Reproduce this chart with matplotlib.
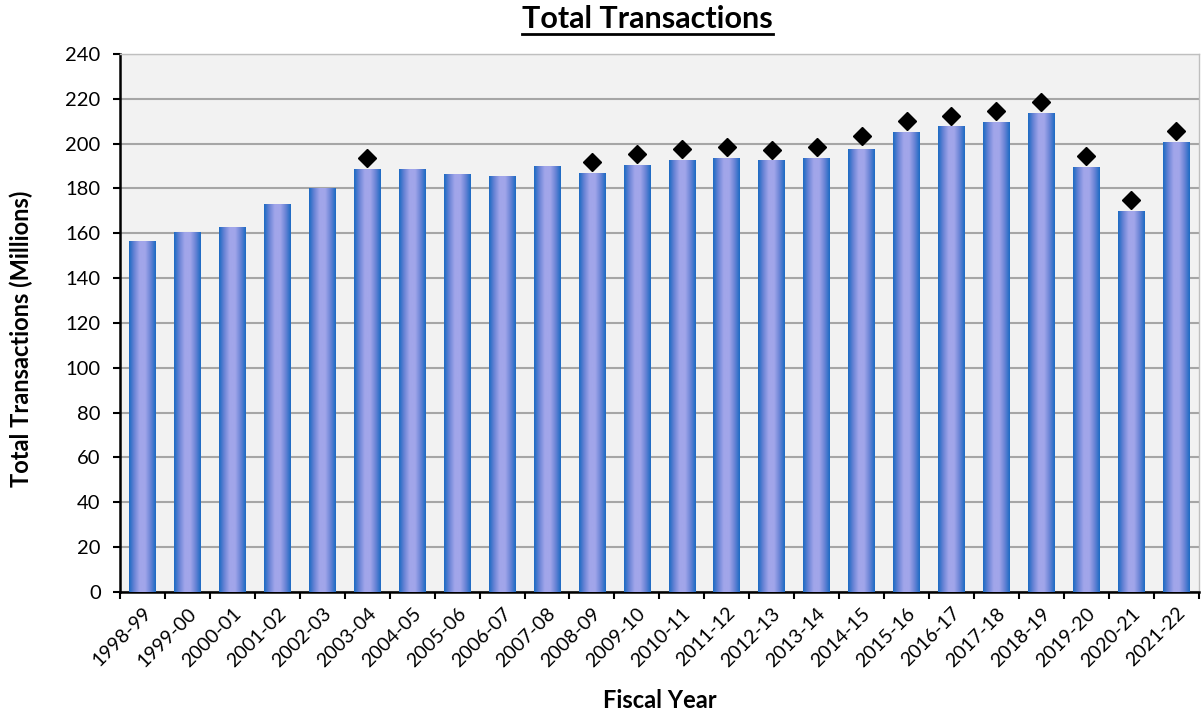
import matplotlib
matplotlib.use("Agg")
import matplotlib.pyplot as plt
import numpy as np
from matplotlib.colors import LinearSegmentedColormap

years = ["1998-99", "1999-00", "2000-01", "2001-02", "2002-03", "2003-04", "2004-05",
         "2005-06", "2006-07", "2007-08", "2008-09", "2009-10", "2010-11", "2011-12",
         "2012-13", "2013-14", "2014-15", "2015-16", "2016-17", "2017-18", "2018-19",
         "2019-20", "2020-21", "2021-22"]
totals = [156.4, 160.4, 162.7, 173.0, 180.0, 188.6, 188.6, 186.4, 185.5, 190.0,
          186.8, 190.4, 192.6, 193.5, 192.6, 193.5, 197.5, 205.0, 207.8, 209.6,
          213.6, 189.5, 169.8, 200.7]
marker_years = ["2003-04", "2008-09", "2009-10", "2010-11", "2011-12", "2012-13", "2013-14",
                "2014-15", "2015-16", "2016-17", "2017-18", "2018-19", "2019-20", "2020-21",
                "2021-22"]
marker_values = [193.5, 191.7, 195.3, 197.5, 198.4, 197.0, 198.4, 203.4, 210.0, 212.3,
                 214.5, 218.5, 194.4, 174.7, 205.6]
yticks = list(range(0, 241, 20))

plt.rcParams['font.family'] = ['Lato', 'DejaVu Sans']

fig = plt.figure(figsize=(12.01, 7.13), dpi=100)
ax = fig.add_axes([0.1, 0.1697, 0.898, 0.7546])
ax.set_facecolor("#F2F2F2")

x = np.arange(len(years))
bars = ax.bar(x, totals, width=0.59, color="#8E98E0", zorder=2, linewidth=0)

cmap = LinearSegmentedColormap.from_list(
    "barg", ["#1A6AC2", "#6A84D6", "#A2A6EA", "#A2A6EA", "#6A84D6", "#1A6AC2"])
grad = np.linspace(0, 1, 256).reshape(1, -1)
for b in bars:
    x0, w, h = b.get_x(), b.get_width(), b.get_height()
    im = ax.imshow(grad, cmap=cmap, aspect="auto", extent=[x0, x0 + w, 0, h],
                   zorder=3, interpolation="bicubic")
    im.set_clip_path(b)

idx = [years.index(y) for y in marker_years]
ax.plot(idx, marker_values, linestyle="none", marker="D", markersize=9,
        color="black", zorder=4)

ax.set_xlim(-0.5, len(years) - 0.5)
ax.set_ylim(0, 240)
ax.set_yticks(yticks)
ax.yaxis.grid(True, color="#A6A6A6", linewidth=1.5, zorder=1)
ax.set_axisbelow(True)

ax.set_xticks(np.arange(len(years) + 1) - 0.5, minor=False)
ax.set_xticklabels([])
ax.set_xticks(x, minor=True)
ax.set_xticklabels(years, minor=True, rotation=45, ha="right", va="top",
                   rotation_mode="anchor", fontsize=14)
ax.tick_params(axis="x", which="minor", length=0, pad=9)
ax.tick_params(axis="x", which="major", length=5, width=1.5, direction="out")
ax.tick_params(axis="y", length=5, width=1.5, direction="out", labelsize=14.5, pad=9)

for s in ["left", "bottom"]:
    ax.spines[s].set_linewidth(1.8)
    ax.spines[s].set_color("black")
for s in ["top", "right"]:
    ax.spines[s].set_linewidth(1.0)
    ax.spines[s].set_color("#BFBFBF")

ax.set_ylabel("Total Transactions (Millions)", fontsize=17, fontweight="bold")
ax.yaxis.set_label_coords(-0.081, 0.47)
ax.set_xlabel("Fiscal Year", fontsize=17, fontweight="bold")
ax.xaxis.set_label_coords(0.5, -0.180)

t = fig.text(0.539, 0.973, "Total Transactions", ha="center", va="center",
             fontsize=22, fontweight="bold")
fig.canvas.draw()
bb = t.get_window_extent().transformed(fig.transFigure.inverted())
fig.add_artist(plt.Line2D([bb.x0, bb.x1], [bb.y0 - 0.001, bb.y0 - 0.001],
                          color="black", linewidth=2.0, transform=fig.transFigure))

fig.savefig("out.png", dpi=100)
